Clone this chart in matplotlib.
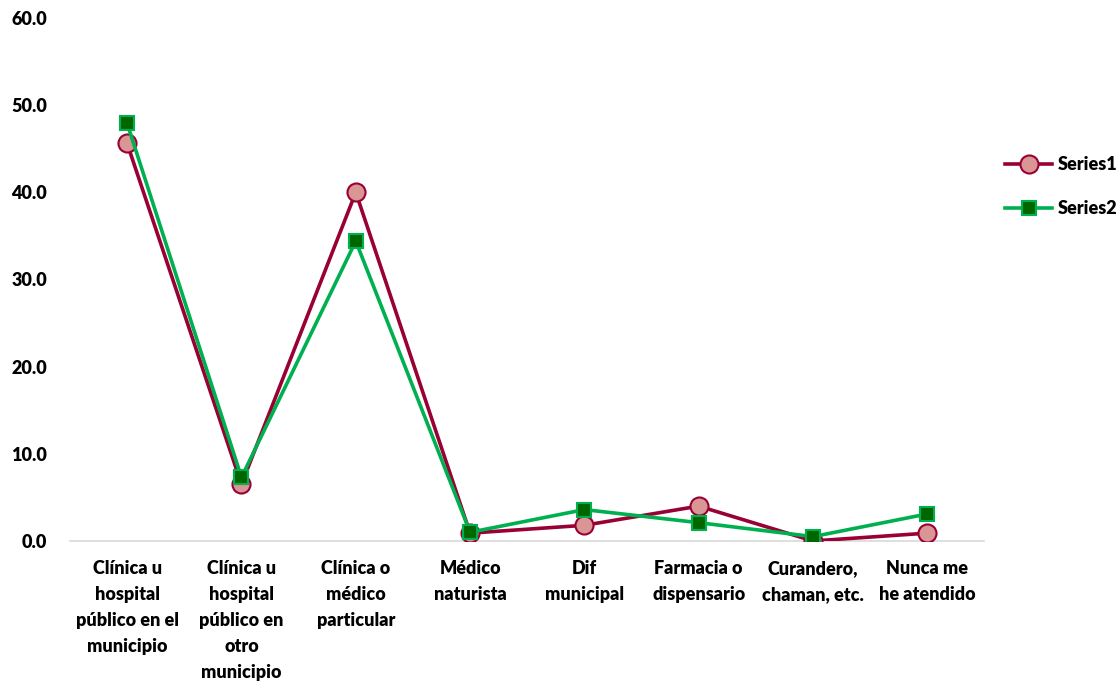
"""Line chart: where people receive medical attention, two series."""

import matplotlib

matplotlib.use("Agg")

import matplotlib.pyplot as plt

categories = [
    "Clínica u\nhospital\npúblico en el\nmunicipio",
    "Clínica u\nhospital\npúblico en\notro\nmunicipio",
    "Clínica o\nmédico\nparticular",
    "Médico\nnaturista",
    "Dif\nmunicipal",
    "Farmacia o\ndispensario",
    "Curandero,\nchaman, etc.",
    "Nunca me\nhe atendido",
]
series1 = [45.6, 6.5, 40.0, 0.9, 1.8, 4.0, 0.0, 0.9]
series2 = [47.9, 7.3, 34.4, 1.0, 3.6, 2.1, 0.5, 3.1]
y_ticks = [0, 10, 20, 30, 40, 50, 60]

plt.rcParams["font.family"] = ["Lato", "DejaVu Sans"]
WEIGHT = "heavy"
SIZE = 13

fig = plt.figure(figsize=(11.2, 6.86), dpi=100)
ax = fig.add_axes([0.0625, 0.2114, 0.8165, 0.7624])

x = list(range(len(categories)))
ax.plot(x, series1, color="#990033", linewidth=2.6, marker="o", markersize=13,
        markerfacecolor="#D99694", markeredgecolor="#990033", markeredgewidth=1.5,
        label="Series1", zorder=3)
ax.plot(x, series2, color="#00B050", linewidth=2.6, marker="s", markersize=10,
        markerfacecolor="#006600", markeredgecolor="#00B050", markeredgewidth=1.5,
        label="Series2", zorder=4)

ax.set_xlim(-0.5, len(categories) - 0.5)
ax.set_ylim(0, 60)
ax.set_yticks(y_ticks)
ax.set_yticklabels([f"{v:.1f}" for v in y_ticks], fontsize=SIZE, fontweight=WEIGHT)
ax.set_xticks(x)
ax.set_xticklabels(categories, fontsize=SIZE, fontweight=WEIGHT, linespacing=1.64)

for side in ["top", "right", "left"]:
    ax.spines[side].set_visible(False)
ax.spines["bottom"].set_color("#D9D9D9")
ax.spines["bottom"].set_linewidth(1.2)
ax.tick_params(axis="both", length=0)
ax.tick_params(axis="y", pad=16.5)
ax.tick_params(axis="x", pad=14)

ax.legend(loc="center left", bbox_to_anchor=(0.883, 0.728), bbox_transform=fig.transFigure,
          frameon=False, handlelength=2.6, labelspacing=1.5, handletextpad=0.3,
          prop={"weight": WEIGHT, "size": SIZE})

fig.savefig("out.png", dpi=100)
